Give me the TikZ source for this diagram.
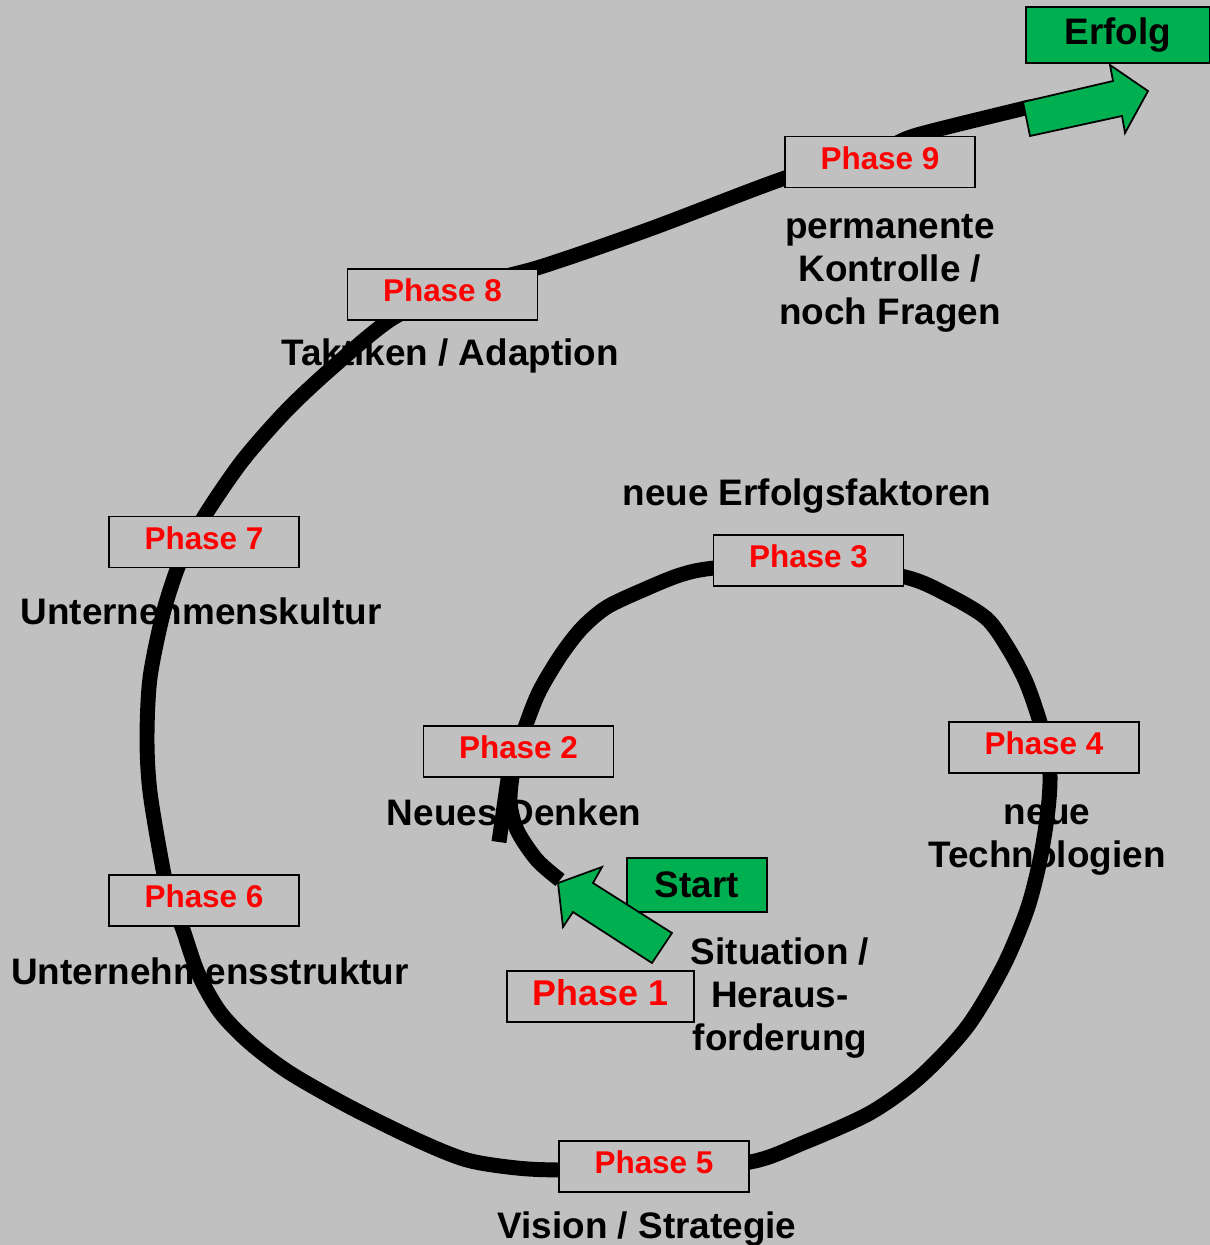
\documentclass[tikz,border=0pt]{standalone}
\usepackage{fontspec}
\setmainfont{Liberation Sans}
\usepackage{tikz}
\usetikzlibrary{positioning}
\definecolor{bggray}{RGB}{192,192,192}
\definecolor{goalgreen}{RGB}{0,176,80}
\newcommand{\phfont}{\fontsize{17.9}{20}\selectfont\bfseries}
\newcommand{\bigfont}{\fontsize{21}{24.4}\selectfont\bfseries}
\tikzset{
  phasebox/.style={draw=black, line width=1pt, fill=bggray, minimum width=3.8cm,
    minimum height=1.02cm, inner sep=0pt, text depth=4.5pt, text=red, font=\phfont},
  goalbox/.style={draw=black, line width=1pt, fill=goalgreen, inner sep=0pt, font=\bigfont},
  lbl/.style={align=center, inner sep=0pt, font=\bigfont, anchor=base},
  spiral/.style={line width=8.5pt, black},
  goalarrow/.style={draw=black, line width=1pt, fill=goalgreen, line join=miter}
}

\begin{document}
\begin{tikzpicture}[x=0.02cm, y=-0.02cm]
  \fill[bggray] (0,0) rectangle (1210,1245);
  \useasboundingbox (0,0) rectangle (1210,1245);

  % texts under the curve (base = last line)
  \node[lbl] (t9) at (890,324) {permanente\\Kontrolle /\\noch Fragen};
  \node[lbl] (t8) at (450,365) {Taktiken / Adaption};
  \node[lbl] (t3) at (807,505) {neue Erfolgsfaktoren};
  \node[lbl] (t7) at (201,624) {Unternehmenskultur};
  \node[lbl] (t2) at (514,825) {Neues Denken};
  \node[lbl] (t4) at (1047,867) {neue\\Technologien};
  \node[lbl] (t6) at (210,984) {Unternehmensstruktur};
  \node[lbl] (t1) at (780,1050) {Situation /\\Heraus-\\forderung};
  \node[lbl] (t5) at (647,1238) {Vision / Strategie};

  % the spiral
  \draw[spiral] plot[smooth, tension=0.5] coordinates {
    (560,880) (537,860) (517,830) (510,800) (515,760) (527,722) (540,690)
    (561,655) (582,628) (607,607) (643,590) (680,575) (714,568) (810,560)
    (905,577) (946,594) (986,618) (1008,648) (1026,682) (1040,722)
    (1046,748) (1050,775) (1048,810) (1040,860) (1027,910) (1003,967)
    (967,1027) (920,1077) (870,1113) (803,1143) (750,1162) (655,1170)
    (560,1170) (517,1168) (467,1160) (417,1140) (350,1107) (290,1073)
    (250,1043) (220,1012) (198,973) (182,927) (170,900) (162,864)
    (150,792) (147,739) (150,678) (163,614) (178,567) (192,540) (207,512)
    (243,460) (287,410) (333,367) (393,318) (460,288) (540,267) (650,229)
    (785,178) (880,150) (917,135) (1017,110) (1030,107)};
  \draw[spiral] (499,842) -- (509,772);

  \node[phasebox] (p9) at (880,162) {Phase 9};
  \node[phasebox] (p8) at (442.5,294.5) {Phase 8};
  \node[phasebox] (p7) at (204,542) {Phase 7};
  \node[phasebox] (p3) at (808.5,560.5) {Phase 3};
  \node[phasebox] (p2) at (518.5,751.5) {Phase 2};
  \node[phasebox] (p4) at (1044,747.5) {Phase 4};
  \node[phasebox] (p6) at (204,900.5) {Phase 6};
  \node[phasebox] (p5) at (654,1166.5) {Phase 5};
  \node[phasebox, minimum width=3.74cm, font=\fontsize{20.4}{24}\selectfont\bfseries]
    (p1) at (600.5,996.5) {Phase 1};

  \node[goalbox, minimum width=2.8cm, minimum height=1.08cm] (start) at (697,885) {Start};
  \node[goalbox, minimum width=3.68cm, minimum height=1.12cm] (erfolg) at (1118,35) {Erfolg};

  % block arrows
  \draw[goalarrow] (558,883) -- (602,867) -- (593,883) -- (672,933) -- (652,963)
    -- (573,912) -- (563,927) -- cycle;
  \draw[goalarrow] (1148,91) -- (1110,65) -- (1113,81) -- (1023,102) -- (1030,136)
    -- (1122,116) -- (1125,133) -- cycle;
\end{tikzpicture}
\end{document}
